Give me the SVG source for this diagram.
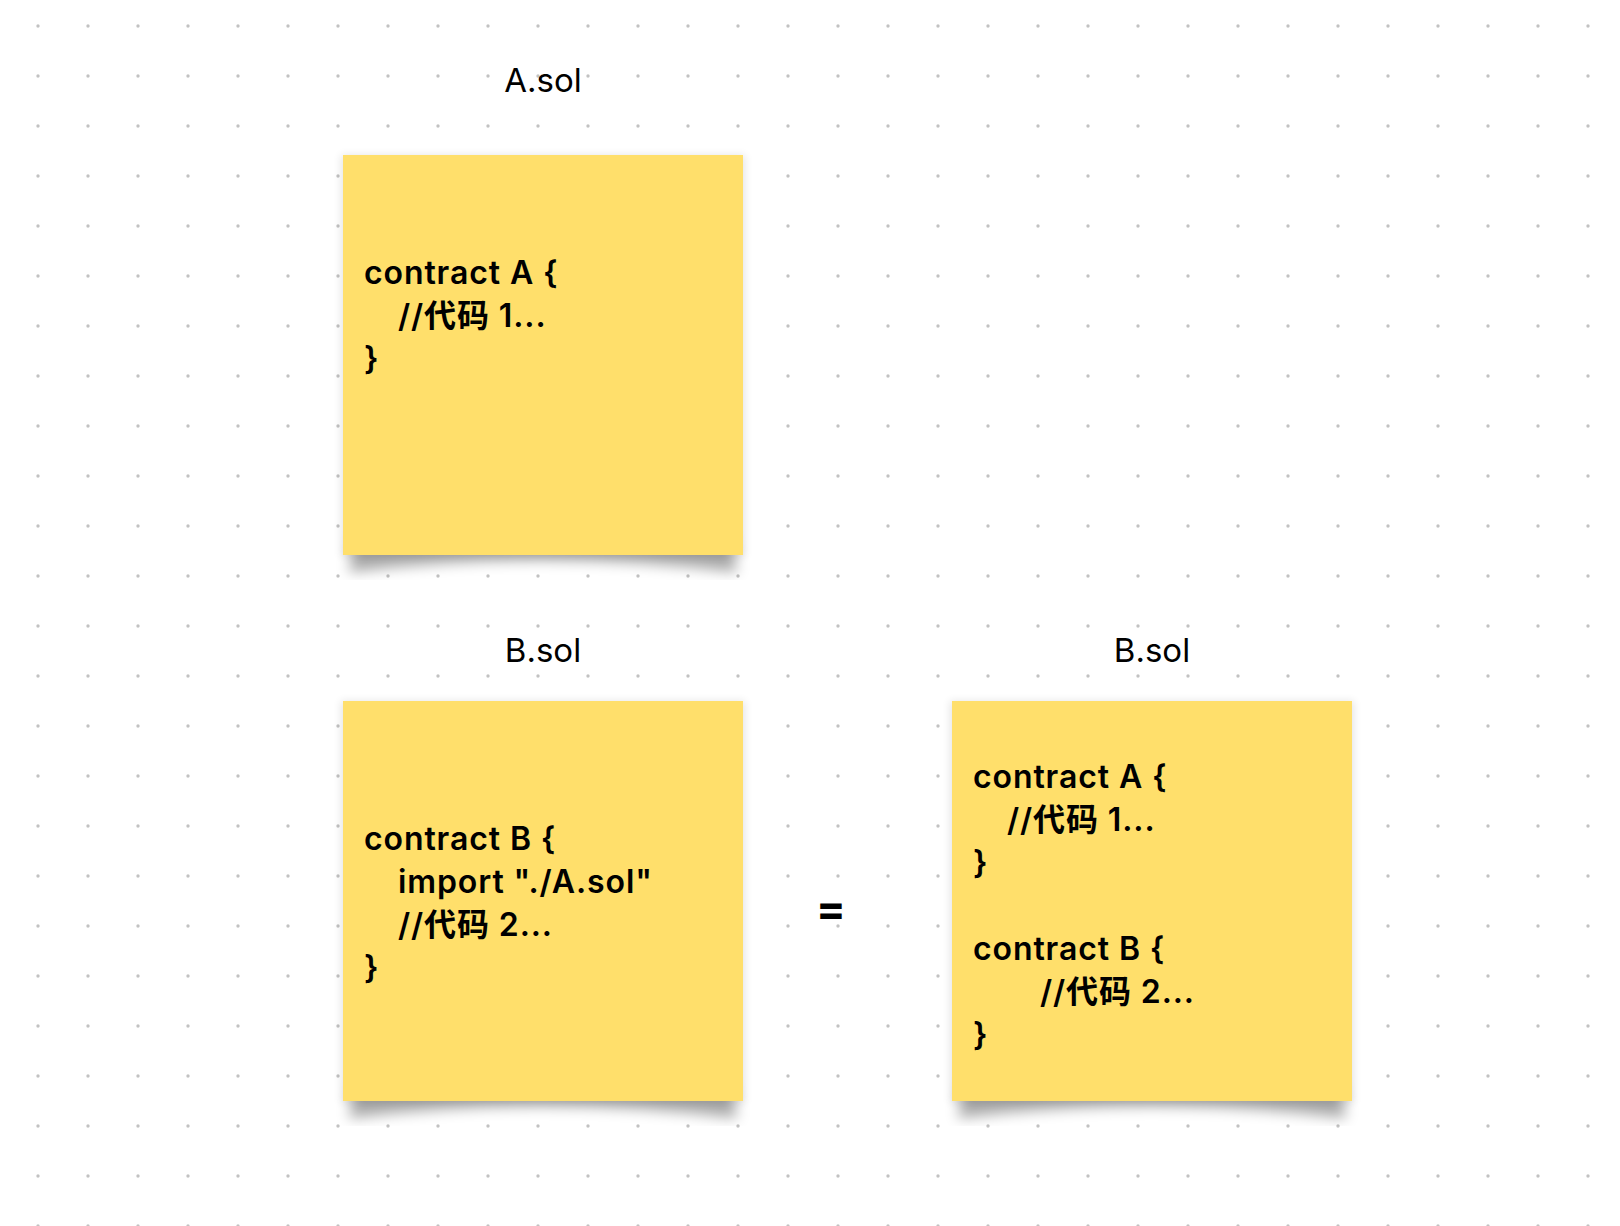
<svg xmlns="http://www.w3.org/2000/svg" width="1620" height="1226" viewBox="0 0 1620 1226">
<style>
.lbl{font-family:Inter,"Noto Sans","Noto Sans CJK SC",sans-serif;font-size:33px;font-weight:400;fill:#000;text-anchor:middle}
.code{font-family:Inter,"Noto Sans CJK SC",sans-serif;font-size:32px;font-weight:600;letter-spacing:0.9px;fill:#000}
.eq{font-family:Inter,"Liberation Sans",sans-serif;font-size:44px;font-weight:700;fill:#000;text-anchor:middle}
.note{fill:#FFDF6B}
.curl{fill:#000;opacity:0.34;filter:url(#blurBig)}
.soft{fill:#000;opacity:0.10;filter:url(#blurSmall)}
</style>
<defs>
<pattern id="dots" x="0" y="0" width="50" height="50" patternUnits="userSpaceOnUse">
<circle cx="38" cy="26" r="1.7" fill="#c2c2c2"/>
</pattern>
<filter id="blurBig" x="-20%" y="-20%" width="140%" height="140%"><feGaussianBlur stdDeviation="7"/></filter>
<filter id="blurSmall" x="-20%" y="-20%" width="140%" height="140%"><feGaussianBlur stdDeviation="4"/></filter>
</defs>
<rect width="1620" height="1226" fill="#ffffff"/>
<rect width="1620" height="1226" fill="url(#dots)"/>

<g id="label-a-sol"><text class="lbl" x="543" y="92">A.sol</text></g>
<g id="label-b-sol-left"><text class="lbl" x="543" y="662">B.sol</text></g>
<g id="label-b-sol-right"><text class="lbl" x="1152" y="662">B.sol</text></g>

<g id="note-a">
<rect class="soft" x="341" y="155" width="404" height="402"/>
<path class="curl" d="M355 535 L731 535 L737 572 Q543 548 349 572 Z"/>
<rect class="note" x="343" y="155" width="400" height="400"/>
<text class="code" x="364" y="284">contract A {</text>
<text class="code" x="398" y="327">//代码 1...</text>
<text class="code" x="364" y="370">}</text>
</g>

<g id="note-b">
<rect class="soft" x="341" y="701" width="404" height="402"/>
<path class="curl" d="M355 1081 L731 1081 L737 1118 Q543 1094 349 1118 Z"/>
<rect class="note" x="343" y="701" width="400" height="400"/>
<text class="code" x="364" y="850">contract B {</text>
<text class="code" x="398" y="893">import "./A.sol"</text>
<text class="code" x="398" y="936">//代码 2...</text>
<text class="code" x="364" y="979">}</text>
</g>

<g id="equals"><text class="eq" x="831" y="924">=</text></g>

<g id="note-merged">
<rect class="soft" x="950" y="701" width="404" height="402"/>
<path class="curl" d="M964 1081 L1340 1081 L1346 1118 Q1152 1094 958 1118 Z"/>
<rect class="note" x="952" y="701" width="400" height="400"/>
<text class="code" x="973" y="788">contract A {</text>
<text class="code" x="1007" y="831">//代码 1...</text>
<text class="code" x="973" y="874">}</text>
<text class="code" x="973" y="960">contract B {</text>
<text class="code" x="1040" y="1003">//代码 2...</text>
<text class="code" x="973" y="1046">}</text>
</g>

<g id="connectors"></g>
</svg>
